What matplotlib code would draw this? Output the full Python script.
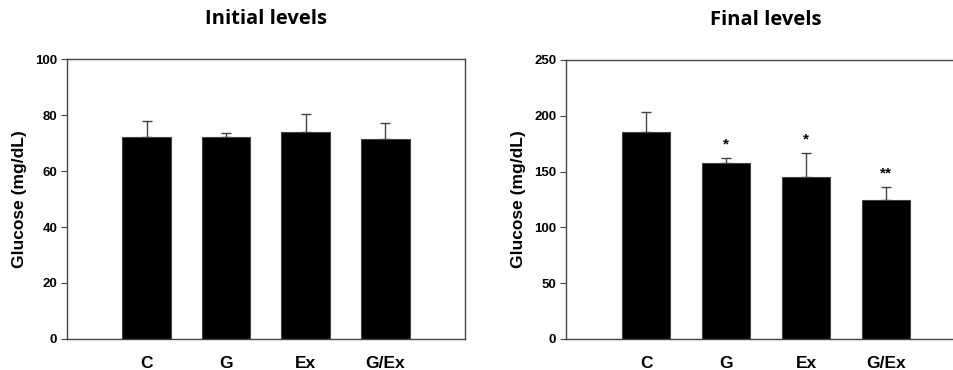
import numpy as np
import matplotlib.pyplot as plt

groups = ["C", "G", "Ex", "G/Ex"]

initial_mean = [72.0, 72.2, 73.8, 71.6]
initial_err = [5.8, 1.4, 6.4, 5.6]

final_mean = [185.0, 157.5, 145.0, 124.5]
final_err = [18.0, 5.0, 21.5, 11.5]
final_marks = ["", "*", "*", "**"]

plt.rcParams['font.family'] = ['Liberation Sans', 'DejaVu Sans']

edge = "#444444"


def bar_panel(ax, means, errs, ymax, step, title, marks=None):
    x = np.arange(len(groups))
    ax.bar(x, means, width=0.61, color="black", edgecolor=edge, linewidth=0.8, zorder=2)
    # only the upper half of the error bar is shown
    ax.errorbar(x, means, yerr=[np.zeros(len(errs)), errs], fmt="none",
                ecolor=edge, elinewidth=1.0, capsize=3.5, capthick=1.0, zorder=1)
    if marks:
        for xi, m, e, lab in zip(x, means, errs, marks):
            if lab:
                ax.text(xi, m + e + 12, lab, ha="center", va="center",
                        fontsize=11, fontweight="bold")
    ax.set_xlim(-1, 4)
    ax.set_ylim(0, ymax)
    ax.set_yticks(np.arange(0, ymax + 1, step))
    ax.set_xticks(x)
    ax.set_xticklabels(groups, fontsize=12.5, fontweight="bold")
    ax.tick_params(axis="x", length=0, pad=12)
    ax.tick_params(axis="y", direction="out", length=4, width=0.8,
                   color=edge, labelsize=9.5, pad=3)
    for lab in ax.get_yticklabels():
        lab.set_fontweight("bold")
    for s in ax.spines.values():
        s.set_color(edge)
        s.set_linewidth(1.0)
    ax.set_ylabel("Glucose (mg/dL)", fontsize=12.5, fontweight="bold", labelpad=6)
    ax.set_title(title, fontsize=14.5, fontweight="bold", family="Open Sans", pad=25)


fig = plt.figure(figsize=(9.54, 3.70), dpi=100)
ax1 = fig.add_axes([0.0702, 0.0838, 0.4172, 0.7567])
ax2 = fig.add_axes([0.5933, 0.0838, 0.4193, 0.7542])

bar_panel(ax1, initial_mean, initial_err, 100, 20, "Initial levels")
bar_panel(ax2, final_mean, final_err, 250, 50, "Final levels", final_marks)
# the right edge of the second frame falls outside the picture
ax2.spines["right"].set_visible(False)

fig.savefig("out.png", dpi=100)
